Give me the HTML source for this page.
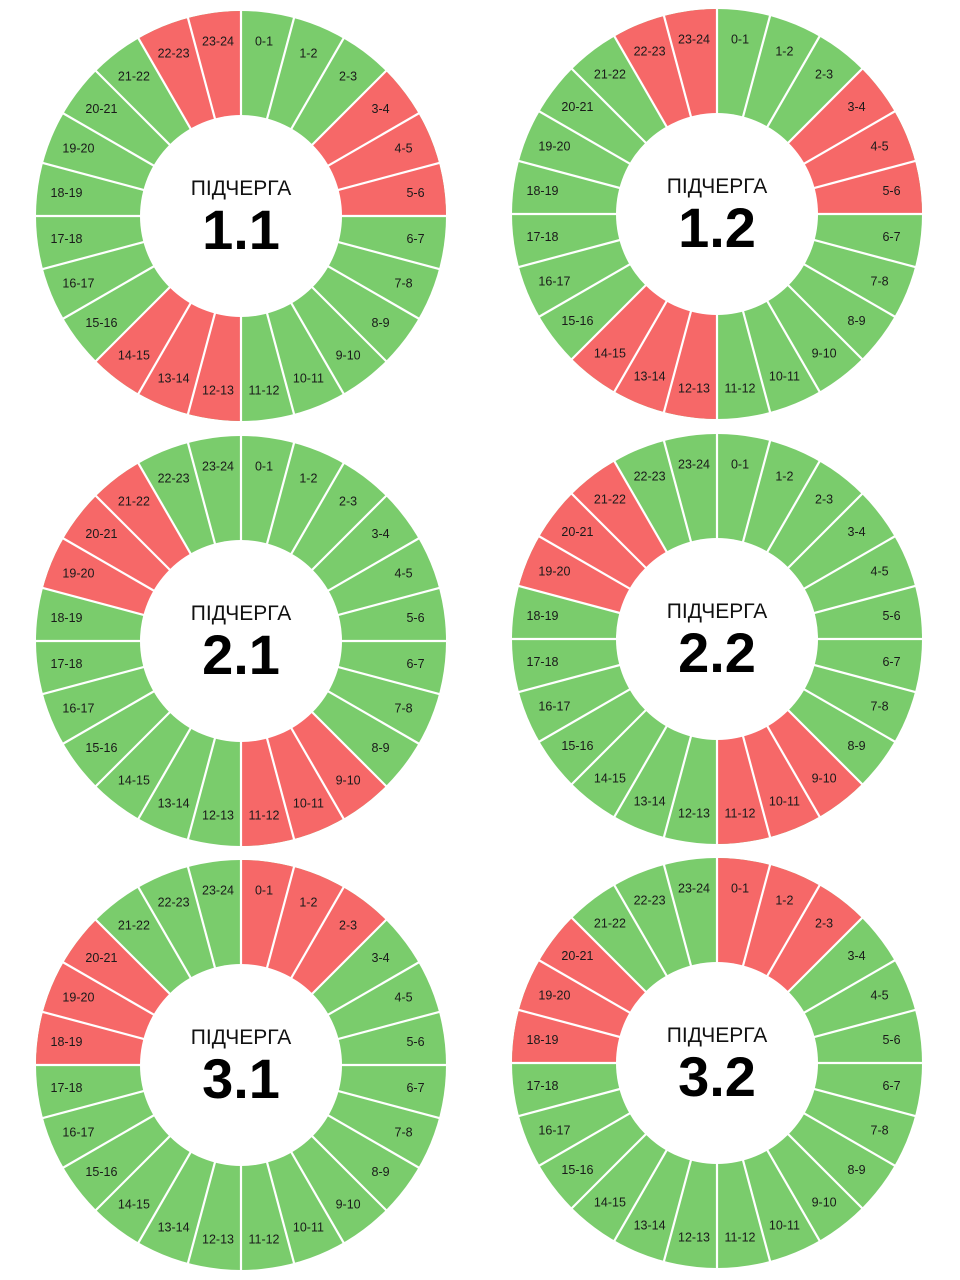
<!DOCTYPE html>
<html><head><meta charset="utf-8"><style>
html,body{margin:0;padding:0;background:#fff;}
svg{display:block;}
.g{fill:#7acc6c;}
.r{fill:#f66868;}
.sp line{stroke:#fff;stroke-width:2.2;}
.lb text{font-family:"Liberation Sans",sans-serif;font-size:12.5px;fill:#1a1a1a;text-anchor:middle;dominant-baseline:central;}
.t1{font-family:"Liberation Sans",sans-serif;font-size:21px;fill:#111;text-anchor:middle;}
.t2{font-family:"Liberation Sans",sans-serif;font-size:56px;font-weight:bold;fill:#000;text-anchor:middle;}
</style></head><body>
<svg width="960" height="1280" viewBox="0 0 960 1280" xmlns="http://www.w3.org/2000/svg">
<defs>
<circle id="oct" r="205"/>
<clipPath id="cp"><circle r="205"/></clipPath>
<g id="spk" class="sp">
<line x1="0" y1="-215" x2="0" y2="215"/>
<line x1="55.6" y1="-207.7" x2="-55.6" y2="207.7"/>
<line x1="107.5" y1="-186.2" x2="-107.5" y2="186.2"/>
<line x1="152" y1="-152" x2="-152" y2="152"/>
<line x1="186.2" y1="-107.5" x2="-186.2" y2="107.5"/>
<line x1="207.7" y1="-55.6" x2="-207.7" y2="55.6"/>
<line x1="215" y1="0" x2="-215" y2="0"/>
<line x1="207.7" y1="55.6" x2="-207.7" y2="-55.6"/>
<line x1="186.2" y1="107.5" x2="-186.2" y2="-107.5"/>
<line x1="152" y1="152" x2="-152" y2="-152"/>
<line x1="107.5" y1="186.2" x2="-107.5" y2="-186.2"/>
<line x1="55.6" y1="207.7" x2="-55.6" y2="-207.7"/>
</g>
</defs>

<g transform="translate(241,216)">
<use href="#oct" class="g"/>
<g clip-path="url(#cp)">
<polygon class="r" points="0,0 160,-160 196,-113 218,-58.5 226,0"/>
<polygon class="r" points="0,0 0,226 -58.5,218 -113,196 -160,160"/>
<polygon class="r" points="0,0 -113,-196 -58.5,-218 0,-226"/>
</g>
<use href="#spk"/>
<circle r="101" fill="#fff"/>
<text class="t1" y="-21">ПІДЧЕРГА</text>
<text class="t2" y="33">1.1</text>
<g class="lb">
<text x="23" y="-174.5">0-1</text><text x="67.4" y="-162.6">1-2</text><text x="107.1" y="-139.6">2-3</text><text x="139.6" y="-107.1">3-4</text><text x="162.6" y="-67.4">4-5</text><text x="174.5" y="-23">5-6</text><text x="174.5" y="23">6-7</text><text x="162.6" y="67.4">7-8</text><text x="139.6" y="107.1">8-9</text><text x="107.1" y="139.6">9-10</text><text x="67.4" y="162.6">10-11</text><text x="23" y="174.5">11-12</text><text x="-23" y="174.5">12-13</text><text x="-67.4" y="162.6">13-14</text><text x="-107.1" y="139.6">14-15</text><text x="-139.6" y="107.1">15-16</text><text x="-162.6" y="67.4">16-17</text><text x="-174.5" y="23">17-18</text><text x="-174.5" y="-23">18-19</text><text x="-162.6" y="-67.4">19-20</text><text x="-139.6" y="-107.1">20-21</text><text x="-107.1" y="-139.6">21-22</text><text x="-67.4" y="-162.6">22-23</text><text x="-23" y="-174.5">23-24</text>
</g></g>

<g transform="translate(717,214)">
<use href="#oct" class="g"/>
<g clip-path="url(#cp)">
<polygon class="r" points="0,0 160,-160 196,-113 218,-58.5 226,0"/>
<polygon class="r" points="0,0 0,226 -58.5,218 -113,196 -160,160"/>
<polygon class="r" points="0,0 -113,-196 -58.5,-218 0,-226"/>
</g>
<use href="#spk"/>
<circle r="101" fill="#fff"/>
<text class="t1" y="-21">ПІДЧЕРГА</text>
<text class="t2" y="33">1.2</text>
<g class="lb">
<text x="23" y="-174.5">0-1</text><text x="67.4" y="-162.6">1-2</text><text x="107.1" y="-139.6">2-3</text><text x="139.6" y="-107.1">3-4</text><text x="162.6" y="-67.4">4-5</text><text x="174.5" y="-23">5-6</text><text x="174.5" y="23">6-7</text><text x="162.6" y="67.4">7-8</text><text x="139.6" y="107.1">8-9</text><text x="107.1" y="139.6">9-10</text><text x="67.4" y="162.6">10-11</text><text x="23" y="174.5">11-12</text><text x="-23" y="174.5">12-13</text><text x="-67.4" y="162.6">13-14</text><text x="-107.1" y="139.6">14-15</text><text x="-139.6" y="107.1">15-16</text><text x="-162.6" y="67.4">16-17</text><text x="-174.5" y="23">17-18</text><text x="-174.5" y="-23">18-19</text><text x="-162.6" y="-67.4">19-20</text><text x="-139.6" y="-107.1">20-21</text><text x="-107.1" y="-139.6">21-22</text><text x="-67.4" y="-162.6">22-23</text><text x="-23" y="-174.5">23-24</text>
</g></g>

<g transform="translate(241,641)">
<use href="#oct" class="g"/>
<g clip-path="url(#cp)">
<polygon class="r" points="0,0 160,160 113,196 58.5,218 0,226"/>
<polygon class="r" points="0,0 -218,-58.5 -196,-113 -160,-160 -113,-196"/>
</g>
<use href="#spk"/>
<circle r="101" fill="#fff"/>
<text class="t1" y="-21">ПІДЧЕРГА</text>
<text class="t2" y="33">2.1</text>
<g class="lb">
<text x="23" y="-174.5">0-1</text><text x="67.4" y="-162.6">1-2</text><text x="107.1" y="-139.6">2-3</text><text x="139.6" y="-107.1">3-4</text><text x="162.6" y="-67.4">4-5</text><text x="174.5" y="-23">5-6</text><text x="174.5" y="23">6-7</text><text x="162.6" y="67.4">7-8</text><text x="139.6" y="107.1">8-9</text><text x="107.1" y="139.6">9-10</text><text x="67.4" y="162.6">10-11</text><text x="23" y="174.5">11-12</text><text x="-23" y="174.5">12-13</text><text x="-67.4" y="162.6">13-14</text><text x="-107.1" y="139.6">14-15</text><text x="-139.6" y="107.1">15-16</text><text x="-162.6" y="67.4">16-17</text><text x="-174.5" y="23">17-18</text><text x="-174.5" y="-23">18-19</text><text x="-162.6" y="-67.4">19-20</text><text x="-139.6" y="-107.1">20-21</text><text x="-107.1" y="-139.6">21-22</text><text x="-67.4" y="-162.6">22-23</text><text x="-23" y="-174.5">23-24</text>
</g></g>

<g transform="translate(717,639)">
<use href="#oct" class="g"/>
<g clip-path="url(#cp)">
<polygon class="r" points="0,0 160,160 113,196 58.5,218 0,226"/>
<polygon class="r" points="0,0 -218,-58.5 -196,-113 -160,-160 -113,-196"/>
</g>
<use href="#spk"/>
<circle r="101" fill="#fff"/>
<text class="t1" y="-21">ПІДЧЕРГА</text>
<text class="t2" y="33">2.2</text>
<g class="lb">
<text x="23" y="-174.5">0-1</text><text x="67.4" y="-162.6">1-2</text><text x="107.1" y="-139.6">2-3</text><text x="139.6" y="-107.1">3-4</text><text x="162.6" y="-67.4">4-5</text><text x="174.5" y="-23">5-6</text><text x="174.5" y="23">6-7</text><text x="162.6" y="67.4">7-8</text><text x="139.6" y="107.1">8-9</text><text x="107.1" y="139.6">9-10</text><text x="67.4" y="162.6">10-11</text><text x="23" y="174.5">11-12</text><text x="-23" y="174.5">12-13</text><text x="-67.4" y="162.6">13-14</text><text x="-107.1" y="139.6">14-15</text><text x="-139.6" y="107.1">15-16</text><text x="-162.6" y="67.4">16-17</text><text x="-174.5" y="23">17-18</text><text x="-174.5" y="-23">18-19</text><text x="-162.6" y="-67.4">19-20</text><text x="-139.6" y="-107.1">20-21</text><text x="-107.1" y="-139.6">21-22</text><text x="-67.4" y="-162.6">22-23</text><text x="-23" y="-174.5">23-24</text>
</g></g>

<g transform="translate(241,1065)">
<use href="#oct" class="g"/>
<g clip-path="url(#cp)">
<polygon class="r" points="0,0 0,-226 58.5,-218 113,-196 160,-160"/>
<polygon class="r" points="0,0 -226,0 -218,-58.5 -196,-113 -160,-160"/>
</g>
<use href="#spk"/>
<circle r="101" fill="#fff"/>
<text class="t1" y="-21">ПІДЧЕРГА</text>
<text class="t2" y="33">3.1</text>
<g class="lb">
<text x="23" y="-174.5">0-1</text><text x="67.4" y="-162.6">1-2</text><text x="107.1" y="-139.6">2-3</text><text x="139.6" y="-107.1">3-4</text><text x="162.6" y="-67.4">4-5</text><text x="174.5" y="-23">5-6</text><text x="174.5" y="23">6-7</text><text x="162.6" y="67.4">7-8</text><text x="139.6" y="107.1">8-9</text><text x="107.1" y="139.6">9-10</text><text x="67.4" y="162.6">10-11</text><text x="23" y="174.5">11-12</text><text x="-23" y="174.5">12-13</text><text x="-67.4" y="162.6">13-14</text><text x="-107.1" y="139.6">14-15</text><text x="-139.6" y="107.1">15-16</text><text x="-162.6" y="67.4">16-17</text><text x="-174.5" y="23">17-18</text><text x="-174.5" y="-23">18-19</text><text x="-162.6" y="-67.4">19-20</text><text x="-139.6" y="-107.1">20-21</text><text x="-107.1" y="-139.6">21-22</text><text x="-67.4" y="-162.6">22-23</text><text x="-23" y="-174.5">23-24</text>
</g></g>

<g transform="translate(717,1063)">
<use href="#oct" class="g"/>
<g clip-path="url(#cp)">
<polygon class="r" points="0,0 0,-226 58.5,-218 113,-196 160,-160"/>
<polygon class="r" points="0,0 -226,0 -218,-58.5 -196,-113 -160,-160"/>
</g>
<use href="#spk"/>
<circle r="101" fill="#fff"/>
<text class="t1" y="-21">ПІДЧЕРГА</text>
<text class="t2" y="33">3.2</text>
<g class="lb">
<text x="23" y="-174.5">0-1</text><text x="67.4" y="-162.6">1-2</text><text x="107.1" y="-139.6">2-3</text><text x="139.6" y="-107.1">3-4</text><text x="162.6" y="-67.4">4-5</text><text x="174.5" y="-23">5-6</text><text x="174.5" y="23">6-7</text><text x="162.6" y="67.4">7-8</text><text x="139.6" y="107.1">8-9</text><text x="107.1" y="139.6">9-10</text><text x="67.4" y="162.6">10-11</text><text x="23" y="174.5">11-12</text><text x="-23" y="174.5">12-13</text><text x="-67.4" y="162.6">13-14</text><text x="-107.1" y="139.6">14-15</text><text x="-139.6" y="107.1">15-16</text><text x="-162.6" y="67.4">16-17</text><text x="-174.5" y="23">17-18</text><text x="-174.5" y="-23">18-19</text><text x="-162.6" y="-67.4">19-20</text><text x="-139.6" y="-107.1">20-21</text><text x="-107.1" y="-139.6">21-22</text><text x="-67.4" y="-162.6">22-23</text><text x="-23" y="-174.5">23-24</text>
</g></g>
</svg>
</body></html>
